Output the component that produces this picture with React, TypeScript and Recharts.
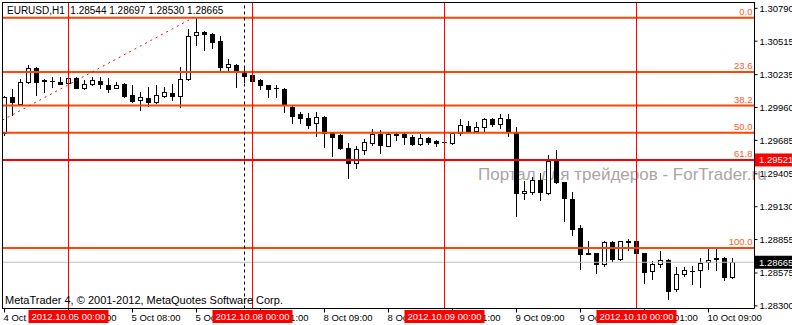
import React from "react";
import { ComposedChart, Bar, XAxis, YAxis, ReferenceLine } from "recharts";

// ---- data (EURUSD H1) ----
const opens = [
  1.29747, 1.30048, 1.2999, 1.30174, 1.30291, 1.30191, 1.30185, 1.30174, 1.30165, 1.30207,
  1.30124, 1.30157, 1.30182, 1.30149, 1.30124, 1.30157, 1.30065, 1.30023, 1.3004, 1.30006,
  1.30057, 1.30082, 1.30057, 1.30199, 1.30567, 1.30592, 1.30575, 1.30517, 1.30299, 1.30316,
  1.30249, 1.30232, 1.30191, 1.30149, 1.30124, 1.30115, 1.29965, 1.29906, 1.29873, 1.29831,
  1.29881, 1.29747, 1.2973, 1.29622, 1.29496, 1.29605, 1.29663, 1.29739, 1.29638, 1.2973,
  1.29739, 1.29714, 1.29655, 1.29705, 1.2968, 1.29672, 1.29663, 1.29747, 1.29806, 1.29764,
  1.29797, 1.29864, 1.29822, 1.29864, 1.29747, 1.29245, 1.29253, 1.29354, 1.29245, 1.29513,
  1.29337, 1.29195, 1.28952, 1.28745, 1.28743, 1.28651, 1.28835, 1.28693, 1.28835, 1.28843,
  1.28743, 1.28592, 1.28651, 1.28684, 1.28442, 1.28567, 1.28592, 1.28601, 1.28668, 1.28701,
  1.28701, 1.28544,
];
const highs = [
  1.30057, 1.30115, 1.30199, 1.30316, 1.30299, 1.30199, 1.30216, 1.30216, 1.30216, 1.30216,
  1.30191, 1.30216, 1.30216, 1.30207, 1.30174, 1.30165, 1.30149, 1.3009, 1.30132, 1.30149,
  1.30132, 1.30157, 1.30299, 1.30617, 1.30712, 1.306, 1.3058, 1.30559, 1.30366, 1.3032,
  1.30299, 1.3024, 1.30195, 1.30152, 1.30149, 1.30124, 1.2997, 1.29923, 1.29914, 1.29923,
  1.29885, 1.29755, 1.29739, 1.29663, 1.29638, 1.29697, 1.29781, 1.29772, 1.29755, 1.29755,
  1.29747, 1.2973, 1.29739, 1.29714, 1.29688, 1.29675, 1.2975, 1.29864, 1.29847, 1.29839,
  1.29873, 1.29873, 1.29906, 1.29906, 1.29797, 1.29345, 1.29379, 1.29412, 1.29563, 1.29605,
  1.2934, 1.29253, 1.28977, 1.28843, 1.28746, 1.2884, 1.2884, 1.28846, 1.2886, 1.28852,
  1.28746, 1.28676, 1.2876, 1.2869, 1.28626, 1.28626, 1.28634, 1.28701, 1.28776, 1.28776,
  1.28705, 1.28697,
];
const lows = [
  1.2973, 1.29898, 1.29981, 1.30165, 1.30065, 1.3009, 1.30132, 1.30155, 1.30157, 1.3012,
  1.30115, 1.30149, 1.30124, 1.3009, 1.3012, 1.30048, 1.30006, 1.2994, 1.29973, 1.29998,
  1.30052, 1.30023, 1.29965, 1.30191, 1.30483, 1.30442, 1.30458, 1.30266, 1.30266, 1.30132,
  1.30174, 1.30174, 1.30115, 1.30048, 1.30048, 1.29923, 1.29831, 1.29831, 1.29789, 1.29722,
  1.2963, 1.29555, 1.29613, 1.2937, 1.29454, 1.29571, 1.29647, 1.2958, 1.29634, 1.29688,
  1.29655, 1.29647, 1.29647, 1.29655, 1.29638, 1.29668, 1.29655, 1.2973, 1.29755, 1.29755,
  1.29755, 1.29806, 1.29789, 1.29722, 1.29053, 1.29195, 1.29237, 1.29186, 1.2924, 1.2933,
  1.29011, 1.28894, 1.28609, 1.2873, 1.28576, 1.28634, 1.28676, 1.28685, 1.28768, 1.28735,
  1.28492, 1.28525, 1.28626, 1.28358, 1.28425, 1.2855, 1.28483, 1.28458, 1.28609, 1.28601,
  1.28517, 1.2853,
];
const closes = [
  1.30048, 1.30006, 1.30174, 1.30291, 1.30174, 1.30186, 1.30183, 1.3016, 1.30207, 1.30124,
  1.30157, 1.30191, 1.30157, 1.30115, 1.30149, 1.30057, 1.30015, 1.30048, 1.30006, 1.30065,
  1.3009, 1.30057, 1.30199, 1.30559, 1.30592, 1.30575, 1.30509, 1.30299, 1.30324, 1.30266,
  1.30224, 1.30182, 1.30149, 1.30115, 1.30122, 1.29981, 1.29889, 1.29873, 1.29814, 1.29881,
  1.29747, 1.29714, 1.29622, 1.29496, 1.29613, 1.29672, 1.29739, 1.29647, 1.29739, 1.29739,
  1.29714, 1.29655, 1.29705, 1.29672, 1.29663, 1.29672, 1.29747, 1.29814, 1.29764, 1.29797,
  1.29864, 1.29822, 1.29873, 1.29755, 1.29245, 1.29262, 1.29354, 1.29253, 1.29513, 1.29337,
  1.29203, 1.28944, 1.28735, 1.28738, 1.28651, 1.28835, 1.28693, 1.28843, 1.28843, 1.28743,
  1.28584, 1.28651, 1.28684, 1.28425, 1.28567, 1.28601, 1.28594, 1.28659, 1.28684, 1.28693,
  1.28542, 1.28665,
];

const symbolLabel = "EURUSD,H1";
const xTickIndex = [0, 8, 16, 24, 32, 40, 48, 56, 64, 72, 80, 88];
const xTickLabels = [
  "4 Oct 16:00", "5 Oct 00:00", "5 Oct 08:00", "5 Oct 16:00", "8 Oct 01:00", "8 Oct 09:00",
  "8 Oct 17:00", "9 Oct 01:00", "9 Oct 09:00", "9 Oct 17:00", "10 Oct 01:00", "10 Oct 09:00",
];
const yTicks = [1.3079, 1.30515, 1.30235, 1.2996, 1.29685, 1.29405, 1.2913, 1.28855, 1.28575, 1.283];

const separatorIndex = [8, 31, 55, 79];
const separatorLabels = ["2012.10.05 00:00", "2012.10.08 00:00", "2012.10.09 00:00", "2012.10.10 00:00"];
const cursorIndex = 30;

const fibHigh = 1.30712;
const fibLow = 1.28785;
const fibRatios = [0, 0.236, 0.382, 0.5, 0.618, 1];
const fibLabels = ["0.0", "23.6", "38.2", "50.0", "61.8", "100.0"];
const trendStart = { i: -30, price: 1.28785 };
const trendEnd = { i: 23.6, price: 1.30712 };

const alertPrice = 1.29521;
const bidPrice = 1.28665;

const data = opens.map((o, i) => ({
  i,
  o,
  h: highs[i],
  l: lows[i],
  c: closes[i],
  range: [lows[i], highs[i]],
}));

const FONT = "'Liberation Sans', Arial, sans-serif";
const X_DOMAIN: [number, number] = [-0.3125, 93.75];

const Candle = (props: any) => {
  const { x, y, width, height, payload } = props;
  if (payload == null || x == null || y == null || height == null) return null;
  const { o, h, l, c } = payload;
  const top = Math.min(y, y + height);
  const bot = Math.max(y, y + height);
  const span = h - l;
  const yOf = (v: number) => (span > 0 ? top + ((h - v) / span) * (bot - top) : top);
  const cx = Math.floor(x + width / 2) + 0.5;
  const yH = Math.round(yOf(h));
  const yL = Math.round(yOf(l));
  const yO = Math.round(yOf(o));
  const yC = Math.round(yOf(c));
  const bTop = Math.min(yO, yC);
  const bBot = Math.max(yO, yC);
  const bull = c >= o;
  return (
    <g>
      <line x1={cx} x2={cx} y1={yH} y2={yL + 1} stroke="#000" strokeWidth={1} />
      {bBot - bTop < 1 ? (
        <line x1={cx - 2.5} x2={cx + 2.5} y1={bTop + 0.5} y2={bTop + 0.5} stroke="#000" strokeWidth={1} />
      ) : bull ? (
        <rect x={cx - 2} y={bTop + 0.5} width={4} height={bBot - bTop} fill="#fff" stroke="#000" strokeWidth={1} />
      ) : (
        <rect x={cx - 2.5} y={bTop} width={5} height={bBot - bTop + 1} fill="#000" />
      )}
    </g>
  );
};

const XTick = (props: any) => {
  const { x, y, payload } = props;
  const idx = xTickIndex.indexOf(payload.value);
  const label = idx >= 0 ? xTickLabels[idx] : "";
  return (
    <text x={x - 1} y={y + 7} fontSize={9.5} fontFamily={FONT} fill="#000" textAnchor="start">
      {label}
    </text>
  );
};

const DateTick = (props: any) => {
  const { x, y, payload } = props;
  const idx = separatorIndex.indexOf(payload.value);
  if (idx < 0) return null;
  return (
    <g>
      <rect x={x - 40} y={y - 14} width={80} height={13} fill="#ff0000" />
      <text x={x} y={y - 4} textAnchor="middle" fill="#fff" fontSize={9.5} fontFamily={FONT}>
        {separatorLabels[idx]}
      </text>
    </g>
  );
};

const fibLabel = (text: string) => (p: any) => {
  const vb = p.viewBox || p;
  return (
    <text x={vb.x + vb.width - 2} y={vb.y - 3} textAnchor="end" fill="#ff5a1e" fontSize={9.5} fontFamily={FONT}>
      {text}
    </text>
  );
};

const priceBox = (text: string, bg: string) => (p: any) => {
  const vb = p.viewBox || p;
  const left = vb.x + vb.width + 0.5;
  return (
    <g>
      <rect x={left} y={vb.y - 6.5} width={40} height={13} fill={bg} />
      <text x={left + 4} y={vb.y + 3.5} textAnchor="start" fill="#fff" fontSize={9.5} fontFamily={FONT}>
        {text}
      </text>
    </g>
  );
};

export default function App() {
  const last = data[data.length - 1];
  const header = `${symbolLabel}  ${last.o.toFixed(5)} ${last.h.toFixed(5)} ${last.l.toFixed(5)} ${last.c.toFixed(5)}`;
  return (
    <div
      style={{
        position: "absolute",
        left: 0,
        top: 0,
        width: 792,
        height: 325,
        background: "#fff",
        fontFamily: FONT,
        overflow: "hidden",
      }}
    >
      <svg style={{ position: "absolute", left: 0, top: 0 }} width={792} height={325}>
        <text x={478} y={180} fontSize={17} fill="#aca4a4" fontFamily={FONT}>
          Портал для трейдеров - ForTrader.ru
        </text>
      </svg>
      <div style={{ position: "absolute", left: 0, top: 0 }}>
        <ComposedChart width={792} height={325} data={data} margin={{ top: 2, right: 0, bottom: 0, left: 2 }}>
          <XAxis
            dataKey="i"
            type="number"
            domain={X_DOMAIN}
            allowDataOverflow
            ticks={xTickIndex}
            interval={0}
            height={15.5}
            tickSize={4}
            tickMargin={1}
            tick={<XTick />}
            axisLine={{ stroke: "#000" }}
            tickLine={{ stroke: "#000" }}
          />
          <XAxis
            xAxisId="dates"
            dataKey="i"
            type="number"
            domain={X_DOMAIN}
            allowDataOverflow
            ticks={separatorIndex}
            interval={0}
            height={1}
            tickSize={0}
            tickMargin={0}
            tick={<DateTick />}
            axisLine={false}
            tickLine={false}
          />
          <YAxis
            orientation="right"
            type="number"
            domain={[1.28278, 1.30843]}
            allowDataOverflow
            ticks={yTicks}
            interval={0}
            width={37.5}
            tickSize={3}
            tickMargin={2}
            tickFormatter={(v: number) => v.toFixed(5)}
            tick={{ fill: "#000", fontSize: 9.5, fontFamily: FONT, textAnchor: "start" }}
            axisLine={{ stroke: "#000" }}
            tickLine={{ stroke: "#000" }}
          />
          <ReferenceLine
            y={bidPrice}
            stroke="#c0c0c0"
            strokeWidth={1}
            label={priceBox(bidPrice.toFixed(5), "#000")}
          />
          {fibRatios.map((r, k) => (
            <ReferenceLine
              key={"fib" + k}
              y={fibHigh - r * (fibHigh - fibLow)}
              stroke="#ff4500"
              strokeWidth={2}
              label={fibLabel(fibLabels[k])}
            />
          ))}
          <ReferenceLine
            y={alertPrice}
            stroke="#ff0000"
            strokeWidth={2}
            label={priceBox(alertPrice.toFixed(5), "#ff0000")}
          />
          <ReferenceLine
            segment={[
              { x: trendStart.i, y: trendStart.price },
              { x: trendEnd.i, y: trendEnd.price },
            ]}
            stroke="#ff0000"
            strokeWidth={1}
            strokeDasharray="2 4"
            ifOverflow="hidden"
          />
          {separatorIndex.map((s, k) => (
            <ReferenceLine key={"sep" + k} xAxisId="dates" x={s} stroke="#ff0000" strokeWidth={1} />
          ))}
          <ReferenceLine x={cursorIndex} stroke="#000" strokeWidth={1} strokeDasharray="3 3" />
          <Bar dataKey="range" shape={<Candle />} barSize={5} isAnimationActive={false} />
        </ComposedChart>
      </div>
      <svg style={{ position: "absolute", left: 0, top: 0, pointerEvents: "none" }} width={792} height={325}>
        <line x1={2.5} x2={2.5} y1={2} y2={309} stroke="#000" strokeWidth={1} />
        <line x1={2} x2={755} y1={2.5} y2={2.5} stroke="#000" strokeWidth={1} />
        <text x={7} y={14} fontSize={10} fontFamily={FONT} fill="#000" style={{ whiteSpace: "pre" }}>
          {header}
        </text>
        <text x={5} y={304} fontSize={11} fontFamily={FONT} fill="#000">
          MetaTrader 4, © 2001-2012, MetaQuotes Software Corp.
        </text>
      </svg>
    </div>
  );
}
